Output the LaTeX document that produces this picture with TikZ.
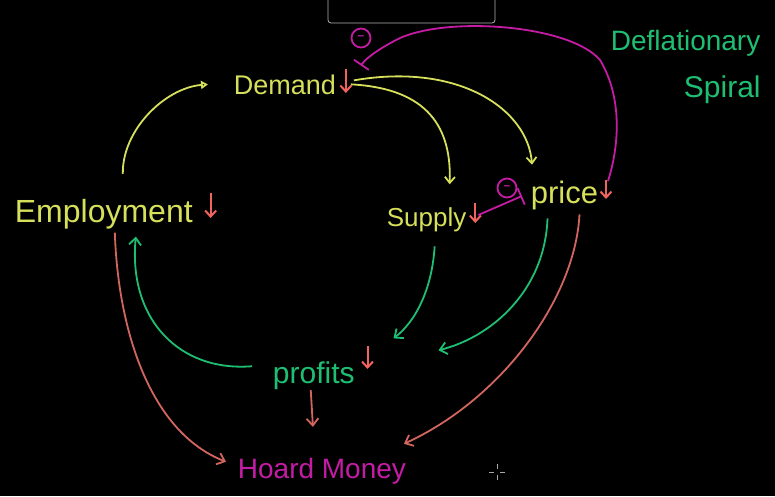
\documentclass[tikz,border=0pt]{standalone}
\usepackage{fontspec}
\setmainfont{Liberation Sans}
\usetikzlibrary{arrows.meta}
\definecolor{ylw}{HTML}{D6E05A}
\definecolor{grn}{HTML}{1FBF73}
\definecolor{redarr}{HTML}{F0645F}
\definecolor{salmon}{HTML}{D2665F}
\definecolor{mag}{HTML}{C41CA4}

\begin{document}
\begin{tikzpicture}[x=1pt,y=-1pt,line width=1.8pt,
  lbl/.style={inner sep=0pt,anchor=base west,font=\fontsize{#1}{#1}\selectfont},
  ylwline/.style={draw=ylw,-{Straight Barb[length=6pt,width=10pt]}},
  grnline/.style={draw=grn,-{Straight Barb[length=7pt,width=12pt]}},
  hoardline/.style={draw=salmon,-{Straight Barb[length=7pt,width=12pt]}},
  dn/.style={draw=redarr,line width=2pt,-{Straight Barb[length=6pt,width=11pt]}},
  minus/.style={draw=mag,circle,inner sep=0pt,minimum size=19pt,text=mag,font=\bfseries\large}]
          \fill[black] (0,0) rectangle (775,496);
          \useasboundingbox (0,0) rectangle (775,496);
          \draw[gray!60,line width=0.8pt,rounded corners=3pt] (328,-6) rectangle (495,23);
          \node[lbl=27,text=ylw] (demand) at (233,94) {Demand};
          \node[lbl=32,text=ylw] (employ) at (14,222) {Employment};
          \node[lbl=26,text=ylw] (supply) at (386,226) {Supply};
          \node[lbl=31,text=ylw] (price) at (530,203) {price};
          \node[lbl=30,text=grn] (profits) at (272,383) {profits};
          \node[lbl=28,text=mag] (hoard) at (237,478) {Hoard Money};
          \node[lbl=28,text=grn] (deflation) at (610,50) {Deflationary};
          \node[lbl=30,text=grn] (spiral) at (683,97) {Spiral};
          % falling quantities
          \draw[dn] ([shift={(9,-25)}]demand.base east) -- ++(0,24);
          \draw[dn] ([shift={(17,-29)}]employ.base east) -- ++(0,25);
          \draw[dn] ([shift={(8,-23)}]supply.base east) -- ++(0,20);
          \draw[dn] ([shift={(7,-23)}]price.base east) -- ++(0,19);
          \draw[dn] ([shift={(12,-37)}]profits.base east) -- ++(0,23);
          % demand links
          \draw[draw=ylw,-{Triangle[open,length=7pt,width=8pt]}] ([shift={(19,-24)}]employ.north) .. controls (122,130) and (165,88) .. ([xshift=-25]demand.west);
          \draw[ylwline] ([xshift=14]demand.east) .. controls (420,88) and (452,120) .. ([shift={(23,-22)}]supply.north);
          \draw[ylwline] ([shift={(17,-4)}]demand.east) .. controls (460,62) and (528,110) .. ([shift={(2,-15)}]price.north west);
          % price feedback
          \draw[draw=mag,-{Bar[width=18pt]}] ([shift={(9,-14)}]price.east) .. controls (618,150) and (624,100) .. (600,60) .. controls (570,25) and (450,16) .. (400,38) .. controls (380,48) and (366,58) .. ([shift={(24,-8)}]demand.north east);
          \node[minus] (m1) at (361,38) {--};
          \draw[draw=mag,-{Bar[width=18pt]}] ([shift={(11,-11)}]supply.base east) -- ([shift={(-8,-7)}]price.base west);
          \node[minus] (m2) at (507,188) {--};
          % profits
          \draw[grnline] ([shift={(8,14)}]supply.south) .. controls (432,290) and (415,322) .. ([shift={(38,-22)}]profits.north east);
          \draw[grnline] ([shift={(-17,8)}]price.south) .. controls (545,290) and (492,337) .. ([shift={(83,-25)}]profits.east);
          \draw[grnline] ([shift={(-20,-9)}]profits.west) .. controls (180,372) and (128,320) .. ([shift={(32,7)}]employ.south);
          % hoarding
          \draw[hoardline] ([shift={(11,3)}]employ.south) .. controls (118,330) and (150,432) .. ([shift={(-11,-9)}]hoard.west);
          \draw[hoardline] ([shift={(-3,0)}]profits.south) -- ([shift={(-9,-30)}]hoard.north);
          \draw[hoardline] ([shift={(15,4)}]price.south) .. controls (575,300) and (500,400) .. ([shift={(-3,-13)}]hoard.north east);
          % cursor
          \draw[gray!70,line width=0.6pt] (489,472) -- (494,472) (500,472) -- (505,472) (497,464) -- (497,469) (497,475) -- (497,480);
        \end{tikzpicture}
\end{document}
